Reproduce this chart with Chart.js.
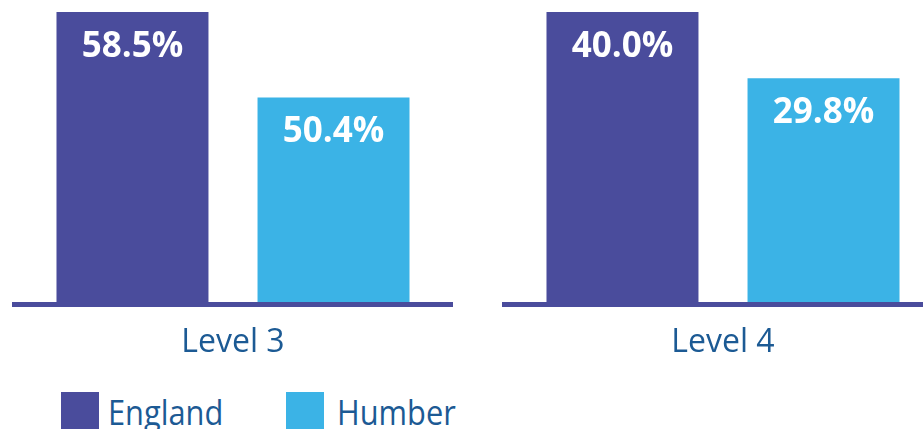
<!DOCTYPE html>
<html>
<head>
<meta charset="utf-8">
<script src="https://cdn.jsdelivr.net/npm/chart.js@4.4.0/dist/chart.umd.min.js"></script>
<style>
  html, body { margin: 0; padding: 0; background: #fff; }
  body { position: relative; width: 923px; height: 429px; overflow: hidden; }
  .box { position: absolute; top: 0; width: 460px; height: 384px; }
  #boxL3 { left: 0; }
  #boxL4 { left: 490px; }
  .sw { position: absolute; top: 392px; width: 38px; height: 38px; }
  .lt { position: absolute; top: 394px; font: 35px/1 "Open Sans", sans-serif; color: #1c5a94;
        transform: scaleX(0.88); transform-origin: left top; white-space: nowrap; }
</style>
</head>
<body>
<div class="box" id="boxL3"><canvas id="chartL3"></canvas></div>
<div class="box" id="boxL4"><canvas id="chartL4"></canvas></div>
<div class="sw" style="left:61px;background:#4a4c9c"></div>
<div class="lt" style="left:108px">England</div>
<div class="sw" style="left:286px;background:#3bb3e6"></div>
<div class="lt" style="left:337px">Humber</div>
<script>
(function () {
  'use strict';

  var seriesNames = ['England', 'Humber'];
  var level3 = [58.5, 50.4];
  var level4 = [40.0, 29.8];
  var colors = ['#4a4c9c', '#3bb3e6'];

  var valueLabels = {
    id: 'valueLabels',
    afterDatasetsDraw: function (chart) {
      var ctx = chart.ctx;
      ctx.save();
      ctx.fillStyle = '#ffffff';
      ctx.font = 'bold 35px "Open Sans", sans-serif';
      ctx.textAlign = 'center';
      ctx.textBaseline = 'alphabetic';
      chart.data.datasets.forEach(function (ds, i) {
        chart.getDatasetMeta(i).data.forEach(function (bar, j) {
          ctx.fillText(ds.data[j].toFixed(1) + '%', bar.x, bar.y + 44.5);
        });
      });
      ctx.restore();
    }
  };

  function levelChart(canvasId, label, values, yMin, yMax) {
    var canvas = document.getElementById(canvasId);
    new Chart(canvas.getContext('2d'), {
      type: 'bar',
      data: {
        labels: [label],
        datasets: values.map(function (v, i) {
          return {
            label: seriesNames[i],
            data: [v],
            backgroundColor: colors[i],
            base: yMin,
            categoryPercentage: 0.918,
            barPercentage: 0.756
          };
        })
      },
      options: {
        responsive: true,
        maintainAspectRatio: false,
        animation: false,
        layout: { padding: { left: 14, right: 8, top: 12, bottom: 2 } },
        plugins: { legend: { display: false }, tooltip: { enabled: false } },
        scales: {
          x: {
            grid: { display: false, drawTicks: false },
            border: { display: true, color: '#4a4c9c', width: 5, z: 1 },
            ticks: { color: '#1c5a94', padding: 19.5, font: { family: '"Open Sans", sans-serif', size: 32 } }
          },
          y: { display: false, min: yMin, max: yMax }
        }
      },
      plugins: [valueLabels]
    });
  }

  levelChart('chartL3', 'Level 3', level3, 30.8, 58.5);
  levelChart('chartL4', 'Level 4', level4, -5, 40);
})();
</script>
</body>
</html>
